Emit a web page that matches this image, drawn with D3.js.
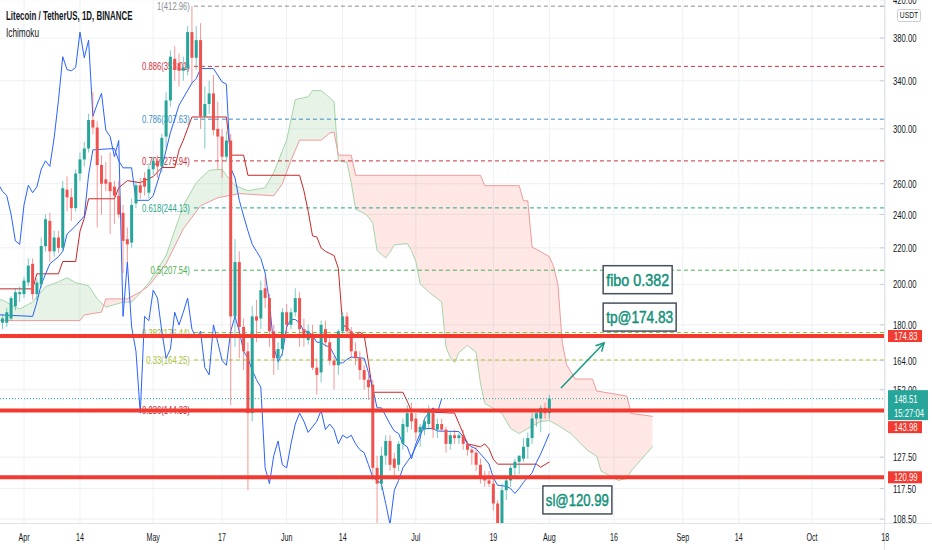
<!DOCTYPE html>
<html>
<head>
<meta charset="utf-8">
<script src="https://cdn.jsdelivr.net/npm/d3@7"></script>
<style>
  body { margin: 0; background: #fff; }
  svg { display: block; font-family: "Liberation Sans", Arial, sans-serif; }
</style>
</head>
<body>
<div id="chart"></div>
<script>
// LTC/USDT daily candles, 2021-03-26 .. 2021-08-01
const candleStart = "2021-03-26", candleEnd = "2021-08-01";
const open = [175,181,181,183,189,195,195,201,211,195, 200,221,236,218,226,220,256,251,244,267,
  277,285,307,301,273,263,261,258,252,241, 225,223,247,259,264,254,270,276,272,294,
  323,360,356,349,351,386,361,378,310,320, 329,300,294,279,291,184,212,179,168,143,
  184,183,198,193,177,165,169,186,180,186, 193,178,173,176,161,159,178,172,164,162,
  177,184,177,168,165,160,156,154,124,119, 128,133,127,125,132,138,143,141,136,137,
  139,143,137,139,137,132,135,134,135,132, 130,129,125,121,120,119,113,107,117,120,
  124,126,127,131,134,141,141,145,143];
const high = [183,185,188,194,198,199,204,214,214,203, 226,240,241,230,230,262,265,257,270,282,
  290,312,330,306,280,275,282,262,262,246, 232,250,262,264,268,274,279,280,296,330,
  368,372,365,362,392,412.96,392,395,335,340, 345,322,300,298,296,225,218,183,172,189,
  192,202,204,195,180,172,188,190,188,198, 196,183,180,180,165,182,182,175,166,178,
  186,186,179,172,168,162,158,156,128,131, 135,135,129,133,141,146,147,143,139,141,
  146,144,141,141,138,136,137,136,137,133, 131,131,127,123,123,121,114,119,121,125,
  127,128,134,136,143,144,146,147,150];
const low = [170,178,179,182,187,191,193,199,192,192, 198,218,212,215,217,218,242,236,242,262,
  272,282,296,232,240,255,228,234,238,206, 212,220,244,250,252,250,266,264,268,285,
  318,340,335,340,345,338,350,300,285,312, 295,270,264,275,146,170,165,160,117,140,
  172,178,188,170,158,160,166,176,178,184, 170,170,171,160,150,155,170,162,152,158,
  174,174,165,162,156,152,148,120,105,117, 125,123,121,123,130,136,137,133,131,135,
  137,134,134,136,129,130,132,132,130,128, 125,123,119,118,118,111,104,105,114,118,
  121,122,126,127,132,138,136,141,141];
const close = [181,183,186,193,196,196,202,210,195,201, 221,237,218,226,220,257,251,244,267,277,
  285,307,301,273,260,260,255,252,240,224, 222,246,259,254,258,270,276,272,293,323,
  362,350,349,352,386,361,378,310,320,329, 299,294,279,291,184,212,179,168,143,184,
  182,197,193,177,165,169,186,180,186,193, 178,174,177,161,158,180,172,164,162,177,
  184,177,168,165,160,156,153,124,119,128, 133,125,124,132,139,143,140,136,138,140,
  144,137,139,137,132,135,134,135,132,130, 129,125,121,120,119,113,107,117,120,124,
  126,128,131,134,141,143,145,143,148.51];
const laggingShift = 25;

// Ichimoku lines
const conversionLine = [["2021-03-24",185],["2021-04-03",184],["2021-04-04",191],["2021-04-05",200],["2021-04-07",211],
  ["2021-04-09",215],["2021-04-10",218],["2021-04-11",228],["2021-04-13",233],["2021-04-15",239],["2021-04-16",266],
  ["2021-04-17",284],["2021-04-22",285],["2021-04-23",276],["2021-04-24",271],["2021-04-26",271],["2021-04-27",249],
  ["2021-04-30",249],["2021-05-01",252],["2021-05-03",271],["2021-05-05",297],["2021-05-07",319],["2021-05-10",338],
  ["2021-05-11",342],["2021-05-12",351],["2021-05-15",351],["2021-05-17",339],["2021-05-18",337],["2021-05-19",271],
  ["2021-05-20",264],["2021-05-21",249],["2021-05-22",239],["2021-05-23",230],["2021-05-24",222],["2021-05-25",218],
  ["2021-05-26",214],["2021-05-27",206],["2021-05-28",191],["2021-05-29",170],["2021-05-30",163.5],["2021-05-31",167],
  ["2021-06-01",179],["2021-06-02",182.5],["2021-06-03",182.5],["2021-06-04",181],["2021-06-05",177],["2021-06-06",177],
  ["2021-06-07",175],["2021-06-08",172],["2021-06-09",172],["2021-06-10",170.5],["2021-06-11",170],["2021-06-12",166.5],
  ["2021-06-13",163],["2021-06-14",163],["2021-06-15",164.5],["2021-06-16",165.5],["2021-06-19",165],["2021-06-20",159],
  ["2021-06-21",152.5],["2021-06-22",145],["2021-06-23",145],["2021-06-24",142],["2021-06-25",139],["2021-06-26",136.5],
  ["2021-06-27",135.6],["2021-06-28",132],["2021-06-29",131],["2021-06-30",127],["2021-07-01",132],["2021-07-02",135.6],
  ["2021-07-03",137.4],["2021-07-05",137.4],["2021-07-06",136.5],["2021-07-11",136.3],["2021-07-12",134.5],["2021-07-13",132],
  ["2021-07-14",131],["2021-07-15",130.3],["2021-07-16",128.6],["2021-07-17",127],["2021-07-18",125.2],["2021-07-19",120.8],
  ["2021-07-20",118.5],["2021-07-22",118.2],["2021-07-23",117.5],["2021-07-24",116],["2021-07-25",117.5],["2021-07-26",119.4],
  ["2021-07-27",121],["2021-07-28",122.4],["2021-07-29",125.8],["2021-07-30",128.6],["2021-07-31",132],["2021-08-01",135.6]];

const baseLine = [["2021-03-24",197.7],["2021-04-03",197.7],["2021-04-04",205.6],["2021-04-09",205.6],["2021-04-10",212.3],
  ["2021-04-13",212.3],["2021-04-14",229.7],["2021-04-15",237.7],["2021-04-16",250],["2021-04-22",250],["2021-04-23",257.3],
  ["2021-04-25",262.1],["2021-04-28",260.7],["2021-05-01",264.9],["2021-05-03",271.2],["2021-05-06",271.2],["2021-05-07",283.9],
  ["2021-05-08",291.3],["2021-05-10",309.4],["2021-05-18",309.4],["2021-05-19",280.1],["2021-05-22",280.1],["2021-05-23",265.8],
  ["2021-06-04",265.8],["2021-06-05",255.3],["2021-06-06",242],["2021-06-07",227],["2021-06-08",226.3],["2021-06-09",220],
  ["2021-06-10",218],["2021-06-11",216.8],["2021-06-12",215.6],["2021-06-13",208.6],["2021-06-14",179.8],["2021-06-15",179],
  ["2021-06-16",176.6],["2021-06-17",175.2],["2021-06-18",176.6],["2021-06-19",175.2],["2021-06-20",163.1],["2021-06-21",151],
  ["2021-06-28",151],["2021-06-29",147.5],["2021-06-30",143.7],["2021-07-10",143],["2021-07-11",139.2],["2021-07-12",135.6],
  ["2021-07-13",132],["2021-07-16",131],["2021-07-17",132],["2021-07-18",130.3],["2021-07-19",126.8],["2021-07-20",125.2],
  ["2021-07-29",125.2],["2021-07-30",124.2],["2021-08-01",125.9]];

const leadingSpanA = [["2021-03-24",193],["2021-03-27",192],["2021-03-29",189.6],["2021-03-31",187.6],["2021-04-03",191],
  ["2021-04-06",198.8],["2021-04-09",201.4],["2021-04-11",203.5],["2021-04-13",200.9],["2021-04-16",199.3],["2021-04-18",192.6],
  ["2021-04-20",188.5],["2021-04-24",191],["2021-04-26",191],["2021-04-28",195.6],["2021-04-30",200.9],["2021-05-04",215.6],
  ["2021-05-08",245.5],["2021-05-11",260.7],["2021-05-14",269.3],["2021-05-17",270],["2021-05-18",265.8],["2021-05-20",258.7],
  ["2021-05-23",255.3],["2021-05-27",257.3],["2021-05-29",267.7],["2021-06-01",291.3],["2021-06-03",323.7],["2021-06-06",326.2],
  ["2021-06-07",331.4],["2021-06-09",331.4],["2021-06-11",325.4],["2021-06-12",322],["2021-06-13",276.3],["2021-06-15",274.8],
  ["2021-06-16",260.7],["2021-06-17",243.3],["2021-06-19",240.7],["2021-06-20",238.4],["2021-06-21",234.6],["2021-06-22",218.4],
  ["2021-06-24",214.3],["2021-06-25",217.4],["2021-06-26",221.8],["2021-06-29",222.4],["2021-06-30",218.4],["2021-07-01",212.3],
  ["2021-07-02",200.3],["2021-07-04",196.1],["2021-07-07",191.1],["2021-07-08",169.9],["2021-07-09",165.2],["2021-07-10",163.1],
  ["2021-07-11",167.5],["2021-07-13",170.6],["2021-07-15",167.5],["2021-07-16",154.7],["2021-07-17",146.7],["2021-07-21",142.9],
  ["2021-07-23",137.4],["2021-07-25",135.6],["2021-07-27",137.4],["2021-07-30",139.9],["2021-08-01",140.3],["2021-08-03",138.5],
  ["2021-08-06",135.6],["2021-08-10",129.6],["2021-08-12",127.9],["2021-08-13",123],["2021-08-17",120],["2021-08-19",120.6],
  ["2021-08-20",123],["2021-08-25",131.1]];

const leadingSpanB = [["2021-03-24",182],["2021-04-14",182],["2021-04-15",184.7],["2021-04-19",186.1],["2021-04-20",192.6],
  ["2021-04-25",192.6],["2021-04-28",196.1],["2021-04-30",199.3],["2021-05-04",211.2],["2021-05-08",231.2],["2021-05-12",245.5],
  ["2021-05-16",250.7],["2021-05-21",253.4],["2021-05-29",252],["2021-05-31",260],["2021-06-02",276.3],["2021-06-04",291.3],
  ["2021-06-09",291.3],["2021-06-11",296.7],["2021-06-12",297.5],["2021-06-13",280.1],["2021-06-16",280.1],["2021-06-17",265.8],
  ["2021-07-16",265.8],["2021-07-17",258.7],["2021-07-25",258.7],["2021-07-26",248.7],["2021-07-27",248.7],["2021-07-28",220.4],
  ["2021-07-29",219.2],["2021-08-01",215],["2021-08-02",209.6],["2021-08-03",199.8],["2021-08-04",171.9],["2021-08-05",162.3],
  ["2021-08-07",156.3],["2021-08-11",156.3],["2021-08-12",151.5],["2021-08-19",149.5],["2021-08-20",142.9],["2021-08-25",141.8]];

// Fibonacci retracement (anchored at the 10 May high)
const fibStart = "2021-05-10";
const fibRatios = ["1", "0.886", "0.786", "0.707", "0.618", "0.5", "0.382", "0.33", "0.236"];
const fibPrices = [412.96, 353.01, 307.63, 275.94, 244.13, 207.54, 176.44, 164.25, 144.33];
const fibColors = ["#8a8d97", "#d0313f", "#3c8dc8", "#c8303e", "#1fa68c", "#4caf50", "#9fbd2e", "#a9c23a", "#b8323a"];

// horizontal levels + last price
const levels = [174.83, 143.98, 120.99];
const lastPrice = 148.51, countdown = "15:27:04";

// axes
const priceTicks = [420, 380, 340, 300, 260, 240, 220, 200, 180, 164, 152, 127.5, 117.5, 108.5];
const dateTicks = [["2021-04-01","Apr"],["2021-04-14","14"],["2021-05-01","May"],["2021-05-17","17"],["2021-06-01","Jun"],
  ["2021-06-14","14"],["2021-07-01","Jul"],["2021-07-19","19"],["2021-08-01","Aug"],["2021-08-16","16"],["2021-09-01","Sep"],
  ["2021-09-14","14"],["2021-10-01","Oct"],["2021-10-18","18"]];

// text notes: anchor date, price (top-left of box)
const notes = [
  { text: "fibo 0.382", at: ["2021-08-13T12:00", 210], w: 69, tl: 63 },
  { text: "tp@174.83", at: ["2021-08-13T12:00", 190.5], w: 73, tl: 67 },
  { text: "sl@120.99", at: ["2021-07-30T12:00", 118.3], w: 69, tl: 63 }
];
const arrowFrom = ["2021-08-03T17:00", 152.7], arrowTo = ["2021-08-13T17:00", 171.7];

// ---------------------------------------------------------------
const W = 932, H = 550, plotR = 884, plotB = 523;
const parseD = d3.timeParse("%Y-%m-%d"), parseT = d3.timeParse("%Y-%m-%dT%H:%M");
const P = s => s.length > 10 ? parseT(s) : parseD(s);

const x = d3.scaleTime().domain([parseD("2021-04-01"), parseD("2021-10-01")]).range([24, 812]);
const y = d3.scaleLog().domain([108.5, 420]).range([519.1, -0.3]);

const dates = d3.timeDay.range(parseD(candleStart), d3.timeDay.offset(parseD(candleEnd), 1));
const candles = dates.map((d, i) => ({ d, o: open[i], h: high[i], l: low[i], c: close[i] }));

const svg = d3.select("#chart").append("svg").attr("width", W).attr("height", H);
svg.append("rect").attr("width", W).attr("height", H).attr("fill", "#fff");
const defs = svg.append("defs");
defs.append("clipPath").attr("id", "plot").append("rect").attr("width", plotR).attr("height", plotB);

function label(g, tx, ty, str, size, sx, opts = {}) {
  return g.append("text")
    .attr("transform", `translate(${tx},${ty}) scale(${sx},1)`)
    .attr("font-size", size)
    .attr("dominant-baseline", "central")
    .attr("text-anchor", opts.anchor || "start")
    .attr("font-weight", opts.weight || "normal")
    .attr("fill", opts.fill || "#131722")
    .text(str);
}

// grid
const grid = svg.append("g");
grid.selectAll(".vg").data(dateTicks).join("line")
  .attr("x1", d => x(P(d[0]))).attr("x2", d => x(P(d[0])))
  .attr("y1", 0).attr("y2", plotB).attr("stroke", "#eef0f5");
grid.selectAll(".hg").data(priceTicks).join("line")
  .attr("x1", 0).attr("x2", plotR).attr("y1", d => y(d)).attr("y2", d => y(d)).attr("stroke", "#eef0f5");

const plot = svg.append("g").attr("clip-path", "url(#plot)");

// cloud
const pts = arr => arr.map(d => [x(P(d[0])), y(d[1])]);
const aPts = pts(leadingSpanA), bPts = pts(leadingSpanB);
const cloudPath = "M" + aPts.join("L") + "L" + bPts.slice().reverse().join("L") + "Z";
const bFirst = bPts[0][0], bLast = bPts[bPts.length - 1][0];
defs.append("clipPath").attr("id", "aboveB").append("path")
  .attr("d", "M" + bPts.join("L") + `L${bLast},-50L${bFirst},-50Z`);
defs.append("clipPath").attr("id", "belowB").append("path")
  .attr("d", "M" + bPts.join("L") + `L${bLast},700L${bFirst},700Z`);
plot.append("g").attr("clip-path", "url(#aboveB)").append("path")
  .attr("d", cloudPath).attr("fill", "rgba(67,160,71,0.13)");
plot.append("g").attr("clip-path", "url(#belowB)").append("path")
  .attr("d", cloudPath).attr("fill", "rgba(244,67,54,0.13)");

const line = d3.line().x(d => x(P(d[0]))).y(d => y(d[1]));
plot.append("path").attr("d", line(leadingSpanA)).attr("fill", "none").attr("stroke", "#a5d6a7").attr("stroke-width", 1);
plot.append("path").attr("d", line(leadingSpanB)).attr("fill", "none").attr("stroke", "#ef9a9a").attr("stroke-width", 1);

// fib levels
const fx = x(parseD(fibStart));
fibPrices.forEach((p, i) => {
  plot.append("line").attr("x1", fx + 2).attr("x2", plotR).attr("y1", y(p)).attr("y2", y(p))
    .attr("stroke", fibColors[i]).attr("stroke-dasharray", "4,3").attr("stroke-width", 1);
  label(plot, fx - 2, y(p), `${fibRatios[i]}(${p.toFixed(2)})`, 11, 0.7, { anchor: "end", fill: fibColors[i] });
});

// ichimoku lines
plot.append("path").attr("d", line(baseLine)).attr("fill", "none").attr("stroke", "#c62828").attr("stroke-width", 1);
plot.append("path").attr("d", line(conversionLine)).attr("fill", "none").attr("stroke", "#2962ff").attr("stroke-width", 1);
const lagLine = d3.line().x(d => x(d3.timeDay.offset(d.d, -laggingShift))).y(d => y(d.c));
plot.append("path").attr("d", lagLine(candles)).attr("fill", "none").attr("stroke", "#2962ff").attr("stroke-width", 1);

// candles
const up = "#26a69a", down = "#ef5350";
const cg = plot.append("g");
cg.selectAll(".wick").data(candles).join("line")
  .attr("x1", d => x(d.d)).attr("x2", d => x(d.d))
  .attr("y1", d => y(d.h)).attr("y2", d => y(d.l))
  .attr("stroke", d => d.c >= d.o ? up : down).attr("stroke-opacity", 0.6).attr("stroke-width", 1);
cg.selectAll(".body").data(candles).join("rect")
  .attr("x", d => x(d.d) - 1.5).attr("width", 3)
  .attr("y", d => y(Math.max(d.o, d.c)))
  .attr("height", d => Math.max(1, Math.abs(y(d.o) - y(d.c))))
  .attr("fill", d => d.c >= d.o ? up : down);

// last price dotted line
plot.append("line").attr("x1", 0).attr("x2", plotR).attr("y1", y(lastPrice)).attr("y2", y(lastPrice))
  .attr("stroke", "#26a69a").attr("stroke-dasharray", "1,2").attr("stroke-width", 1);

// thick horizontal levels
plot.selectAll(".lvl").data(levels).join("line")
  .attr("x1", 0).attr("x2", plotR).attr("y1", d => y(d)).attr("y2", d => y(d))
  .attr("stroke", "#f23a30").attr("stroke-width", 4);

// arrow
const ax1 = x(P(arrowFrom[0])), ay1 = y(arrowFrom[1]), ax2 = x(P(arrowTo[0])), ay2 = y(arrowTo[1]);
const ang = Math.atan2(ay2 - ay1, ax2 - ax1);
plot.append("line").attr("x1", ax1).attr("y1", ay1).attr("x2", ax2).attr("y2", ay2)
  .attr("stroke", "#179a85").attr("stroke-width", 1.5);
plot.append("path")
  .attr("d", `M${ax2 - 9 * Math.cos(ang - 0.5)},${ay2 - 9 * Math.sin(ang - 0.5)}L${ax2},${ay2}L${ax2 - 9 * Math.cos(ang + 0.5)},${ay2 - 9 * Math.sin(ang + 0.5)}`)
  .attr("fill", "none").attr("stroke", "#179a85").attr("stroke-width", 1.5);

// notes
notes.forEach(n => {
  const nx = x(P(n.at[0])), ny = y(n.at[1]);
  plot.append("rect").attr("x", nx).attr("y", ny).attr("width", n.w).attr("height", 28)
    .attr("fill", "#fff").attr("stroke", "#46505c").attr("stroke-width", 1.5);
  plot.append("text").attr("x", nx + n.w / 2).attr("y", ny + 14.5)
    .attr("text-anchor", "middle").attr("dominant-baseline", "central")
    .attr("font-size", 16).attr("fill", "#12907a")
    .attr("stroke", "#12907a").attr("stroke-width", 0.45)
    .attr("textLength", n.tl).attr("lengthAdjust", "spacingAndGlyphs")
    .text(n.text);
});

// axes frame
svg.append("line").attr("x1", plotR + 0.5).attr("x2", plotR + 0.5).attr("y1", 0).attr("y2", H).attr("stroke", "#e0e3eb");
svg.append("line").attr("x1", 0).attr("x2", W).attr("y1", plotB + 0.5).attr("y2", plotB + 0.5).attr("stroke", "#e0e3eb");

// price axis
const pa = svg.append("g");
priceTicks.forEach(t => {
  pa.append("line").attr("x1", plotR - 4).attr("x2", plotR).attr("y1", y(t)).attr("y2", y(t)).attr("stroke", "#c9ccd4");
  label(pa, 893, y(t), t.toFixed(2), 11, 0.7);
});
pa.append("rect").attr("x", 897.5).attr("y", 9.5).attr("width", 23).attr("height", 12).attr("rx", 2)
  .attr("fill", "#fff").attr("stroke", "#c9ccd4");
label(pa, 909, 15.5, "USDT", 9, 0.75, { anchor: "middle" });

// last price tag
const lpY = y(lastPrice);
pa.append("rect").attr("x", 888).attr("y", lpY - 8.5).attr("width", 40).attr("height", 30).attr("fill", "#26a69a");
label(pa, 894, lpY, lastPrice.toFixed(2), 11, 0.7, { fill: "#fff" });
label(pa, 894, lpY + 14, countdown, 11, 0.7, { fill: "#fff" });
const tagBottom = lpY + 21.5;
levels.forEach(v => {
  let cy = y(v);
  if (cy + 6 > lpY - 8.5 && cy - 6 < tagBottom) cy = tagBottom + 7;
  pa.append("rect").attr("x", 888).attr("y", cy - 6).attr("width", 34).attr("height", 12).attr("fill", "#f23a30");
  label(pa, 894, cy, v.toFixed(2), 11, 0.7, { fill: "#fff" });
});

// time axis
const ta = svg.append("g");
dateTicks.forEach(d => label(ta, x(P(d[0])), 537, d[1], 11, 0.65, { anchor: "middle" }));

// legend
label(svg, 6, 16, "Litecoin / TetherUS, 1D, BINANCE", 12, 0.66, { weight: 600 });
label(svg, 6, 33, "Ichimoku", 12, 0.69);
</script>
</body>
</html>
